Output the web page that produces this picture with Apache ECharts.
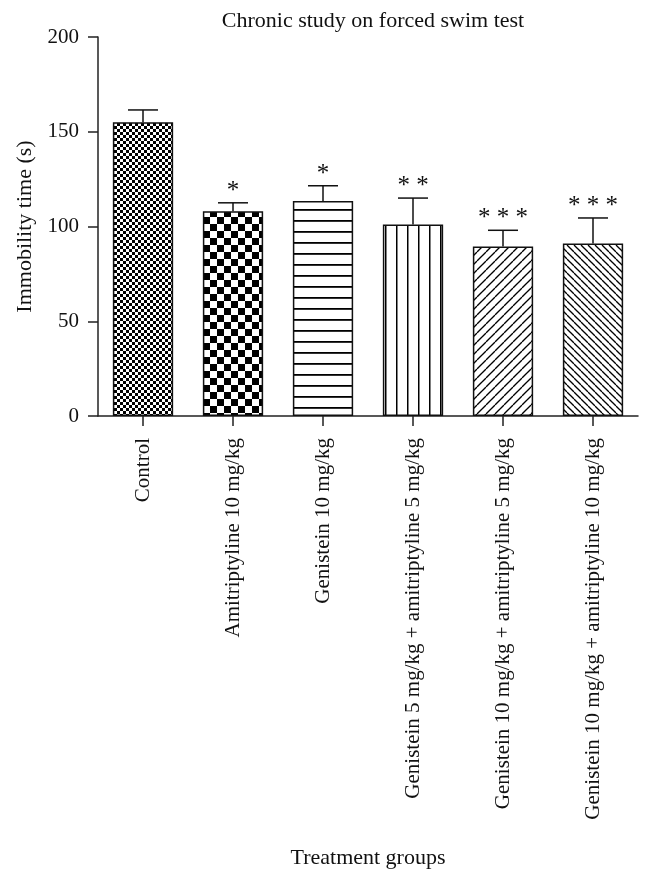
<!DOCTYPE html>
<html>
<head>
<meta charset="utf-8">
<script src="https://cdn.jsdelivr.net/npm/echarts@6/dist/echarts.min.js"></script>
<style>
  html, body { margin: 0; padding: 0; background: #fff; }
  #chart { width: 653px; height: 880px; }
</style>
</head>
<body>
<div id="chart"></div>
<script>
const categories = [
  'Control',
  'Amitriptyline 10 mg/kg',
  'Genistein 10 mg/kg',
  'Genistein 5 mg/kg + amitriptyline 5 mg/kg',
  'Genistein 10 mg/kg + amitriptyline 5 mg/kg',
  'Genistein 10 mg/kg + amitriptyline 10 mg/kg'
];
const means = [155, 108, 113.5, 101, 89.5, 91];
const errors = [6.5, 4.5, 8, 14, 8.5, 13.5];
const stars = ['', '*', '*', '* *', '* * *', '* * *'];
const yTicks = { min: 0, max: 200, interval: 50 };

const FONT = 'Liberation Serif';

function makePattern(kind) {
  const c = document.createElement('canvas');
  let w = 10, h = 10;
  if (kind === 'fineChecker') { w = h = 6; }
  if (kind === 'coarseChecker') { w = h = 14; }
  if (kind === 'hlines') { w = 4; h = 11; }
  if (kind === 'vlines') { w = 11; h = 4; }
  if (kind === 'diagUp') { w = h = 9; }
  if (kind === 'diagDown') { w = h = 7; }
  c.width = w; c.height = h;
  const g = c.getContext('2d');
  g.fillStyle = '#fff';
  g.fillRect(0, 0, w, h);
  g.fillStyle = '#000';
  g.strokeStyle = '#000';
  if (kind === 'fineChecker') {
    g.fillRect(0, 0, 3, 3); g.fillRect(3, 3, 3, 3);
  } else if (kind === 'coarseChecker') {
    g.fillRect(0, 0, 7, 7); g.fillRect(7, 7, 7, 7);
  } else if (kind === 'hlines') {
    g.fillRect(0, 0, w, 1.8);
  } else if (kind === 'vlines') {
    g.fillRect(0, 0, 1.5, h);
  } else if (kind === 'diagUp') {
    g.lineWidth = 1.3;
    for (let k = -1; k <= 1; k++) {
      g.beginPath(); g.moveTo(k * w, h); g.lineTo(k * w + w, 0); g.stroke();
    }
  } else if (kind === 'diagDown') {
    g.lineWidth = 1.3;
    for (let k = -1; k <= 1; k++) {
      g.beginPath(); g.moveTo(k * w, 0); g.lineTo(k * w + w, h); g.stroke();
    }
  }
  return { image: c, repeat: 'repeat' };
}

const patterns = ['fineChecker', 'coarseChecker', 'hlines', 'vlines', 'diagUp', 'diagDown'].map(makePattern);

const chart = echarts.init(document.getElementById('chart'), null, { renderer: 'canvas' });

const option = {
  animation: false,
  backgroundColor: '#fff',
  title: {
    text: 'Chronic study on forced swim test',
    left: 368,
    textAlign: 'center',
    top: 5,
    textStyle: { fontFamily: FONT, fontSize: 22, fontWeight: 'normal', color: '#111' }
  },
  grid: { left: 98, right: 15, top: 37, bottom: 464, containLabel: false },
  xAxis: {
    type: 'category',
    data: categories,
    name: 'Treatment groups',
    nameLocation: 'middle',
    nameGap: 431,
    nameTextStyle: { fontFamily: FONT, fontSize: 22, color: '#111' },
    axisLine: { lineStyle: { color: '#222', width: 1.5 } },
    axisTick: { show: true, alignWithLabel: true, length: 10, lineStyle: { color: '#222', width: 1.5 } },
    axisLabel: { rotate: 90, margin: 22, fontFamily: FONT, fontSize: 21, color: '#111', interval: 0 },
    splitLine: { show: false }
  },
  yAxis: {
    type: 'value',
    min: yTicks.min,
    max: yTicks.max,
    interval: yTicks.interval,
    name: 'Immobility time (s)',
    nameLocation: 'middle',
    nameGap: 62,
    nameTextStyle: { fontFamily: FONT, fontSize: 22, color: '#111' },
    axisLine: { show: true, lineStyle: { color: '#222', width: 1.5 } },
    axisTick: { show: true, length: 10, lineStyle: { color: '#222', width: 1.5 } },
    axisLabel: { margin: 19, fontFamily: FONT, fontSize: 21, color: '#111' },
    splitLine: { show: false }
  },
  series: [
    {
      type: 'bar',
      barWidth: '67%',
      data: means.map((v, i) => ({
        value: v,
        itemStyle: { color: patterns[i], borderColor: '#111', borderWidth: 1.5 }
      })),
      z: 2
    },
    {
      type: 'custom',
      z: 1,
      data: means.map((v, i) => [i, v, errors[i]]),
      renderItem: function (params, api) {
        const i = api.value(0);
        const m = api.value(1);
        const e = api.value(2);
        const star = stars[params.dataIndex];
        const p0 = api.coord([i, m]);
        const p1 = api.coord([i, m + e]);
        const half = 15;
        const children = [
          { type: 'line', shape: { x1: p0[0], y1: p0[1], x2: p1[0], y2: p1[1] }, style: { stroke: '#111', lineWidth: 1.5 } },
          { type: 'line', shape: { x1: p1[0] - half, y1: p1[1], x2: p1[0] + half, y2: p1[1] }, style: { stroke: '#111', lineWidth: 1.5 } }
        ];
        if (star) {
          children.push({
            type: 'text',
            style: {
              text: star, x: p1[0], y: p1[1] + 1,
              align: 'center', verticalAlign: 'bottom',
              font: '25px "' + FONT + '"', fill: '#111'
            }
          });
        }
        return { type: 'group', children: children };
      }
    }
  ]
};
chart.setOption(option);
</script>
</body>
</html>
